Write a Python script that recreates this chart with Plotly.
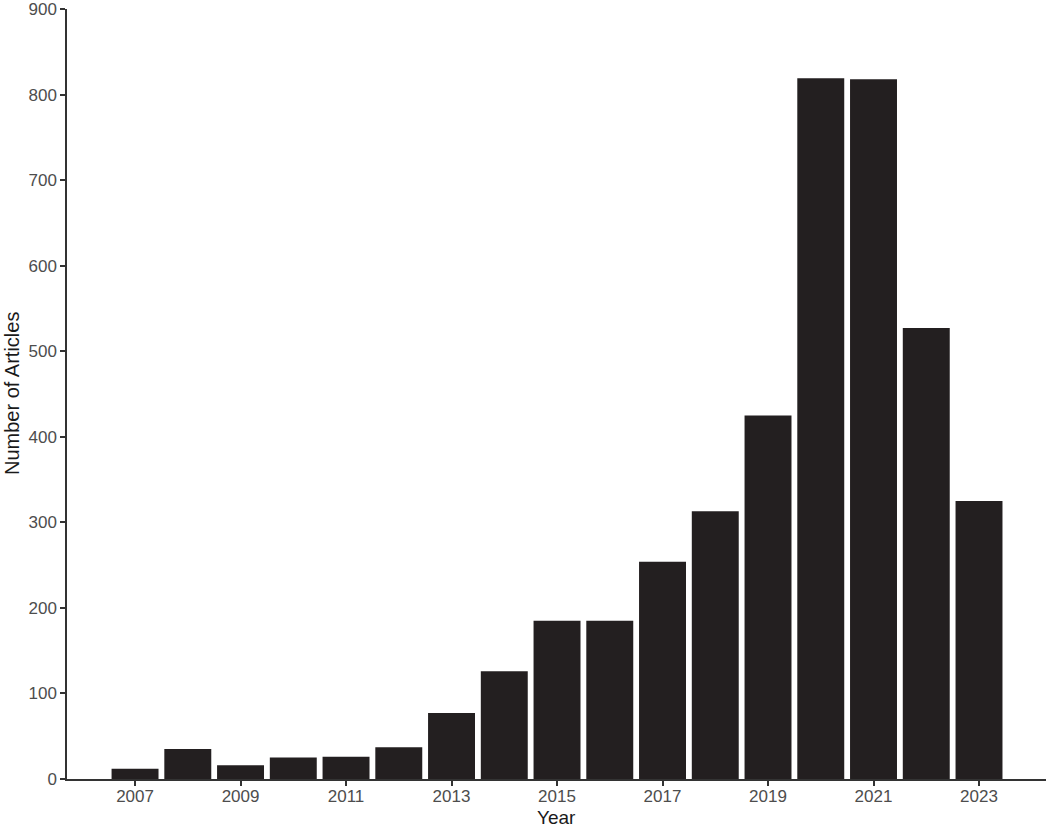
import plotly.graph_objects as go

years = [2007, 2008, 2009, 2010, 2011, 2012, 2013, 2014, 2015, 2016,
         2017, 2018, 2019, 2020, 2021, 2022, 2023]
articles = [12, 35, 16, 25, 26, 37, 77, 126, 185, 185,
            254, 313, 425, 819, 818, 527, 325]
x_ticks = [2007, 2009, 2011, 2013, 2015, 2017, 2019, 2021, 2023]
y_ticks = [0, 100, 200, 300, 400, 500, 600, 700, 800, 900]

fig = go.Figure(go.Bar(x=years, y=articles, marker_color="#231f20",
                       marker_line_width=0, width=0.89))

font = "Liberation Sans, Arial, sans-serif"
fig.update_layout(
    width=1050, height=829,
    margin=dict(l=67, r=4, t=9, b=50),
    plot_bgcolor="white", paper_bgcolor="white",
    showlegend=False,
    font=dict(family=font, size=17, color="#4d4d4d"),
)
fig.update_xaxes(
    range=[2005.71, 2024.27], tickvals=x_ticks, ticks="outside", ticklen=5,
    tickcolor="#333333", tickwidth=1.5, showline=True, linecolor="#333333",
    linewidth=1.5, showgrid=False, zeroline=False, automargin=False,
    ticklabeloverflow="allow", ticklabelstandoff=-4,
    tickfont=dict(size=17, color="#4d4d4d"),
)
fig.update_yaxes(
    range=[0, 900], tickvals=y_ticks, ticks="outside", ticklen=5,
    tickcolor="#333333", tickwidth=1.5, showline=True, linecolor="#333333",
    linewidth=1.5, showgrid=False, zeroline=False, automargin=False,
    ticklabeloverflow="allow",
    tickfont=dict(size=17, color="#4d4d4d"),
)
fig.add_annotation(text="Year", xref="paper", yref="paper", x=0.5, y=0,
                   yshift=-38, showarrow=False, yanchor="middle",
                   font=dict(size=19, color="#1a1a1a", family=font))
fig.add_annotation(text="Number of Articles", xref="paper", yref="paper",
                   x=0, y=0.5, xshift=-55, textangle=-90, showarrow=False,
                   xanchor="center", font=dict(size=20, color="#1a1a1a", family=font))

fig.write_html("out.html", config={"displayModeBar": False},
               post_script="document.body.style.margin='0';")
